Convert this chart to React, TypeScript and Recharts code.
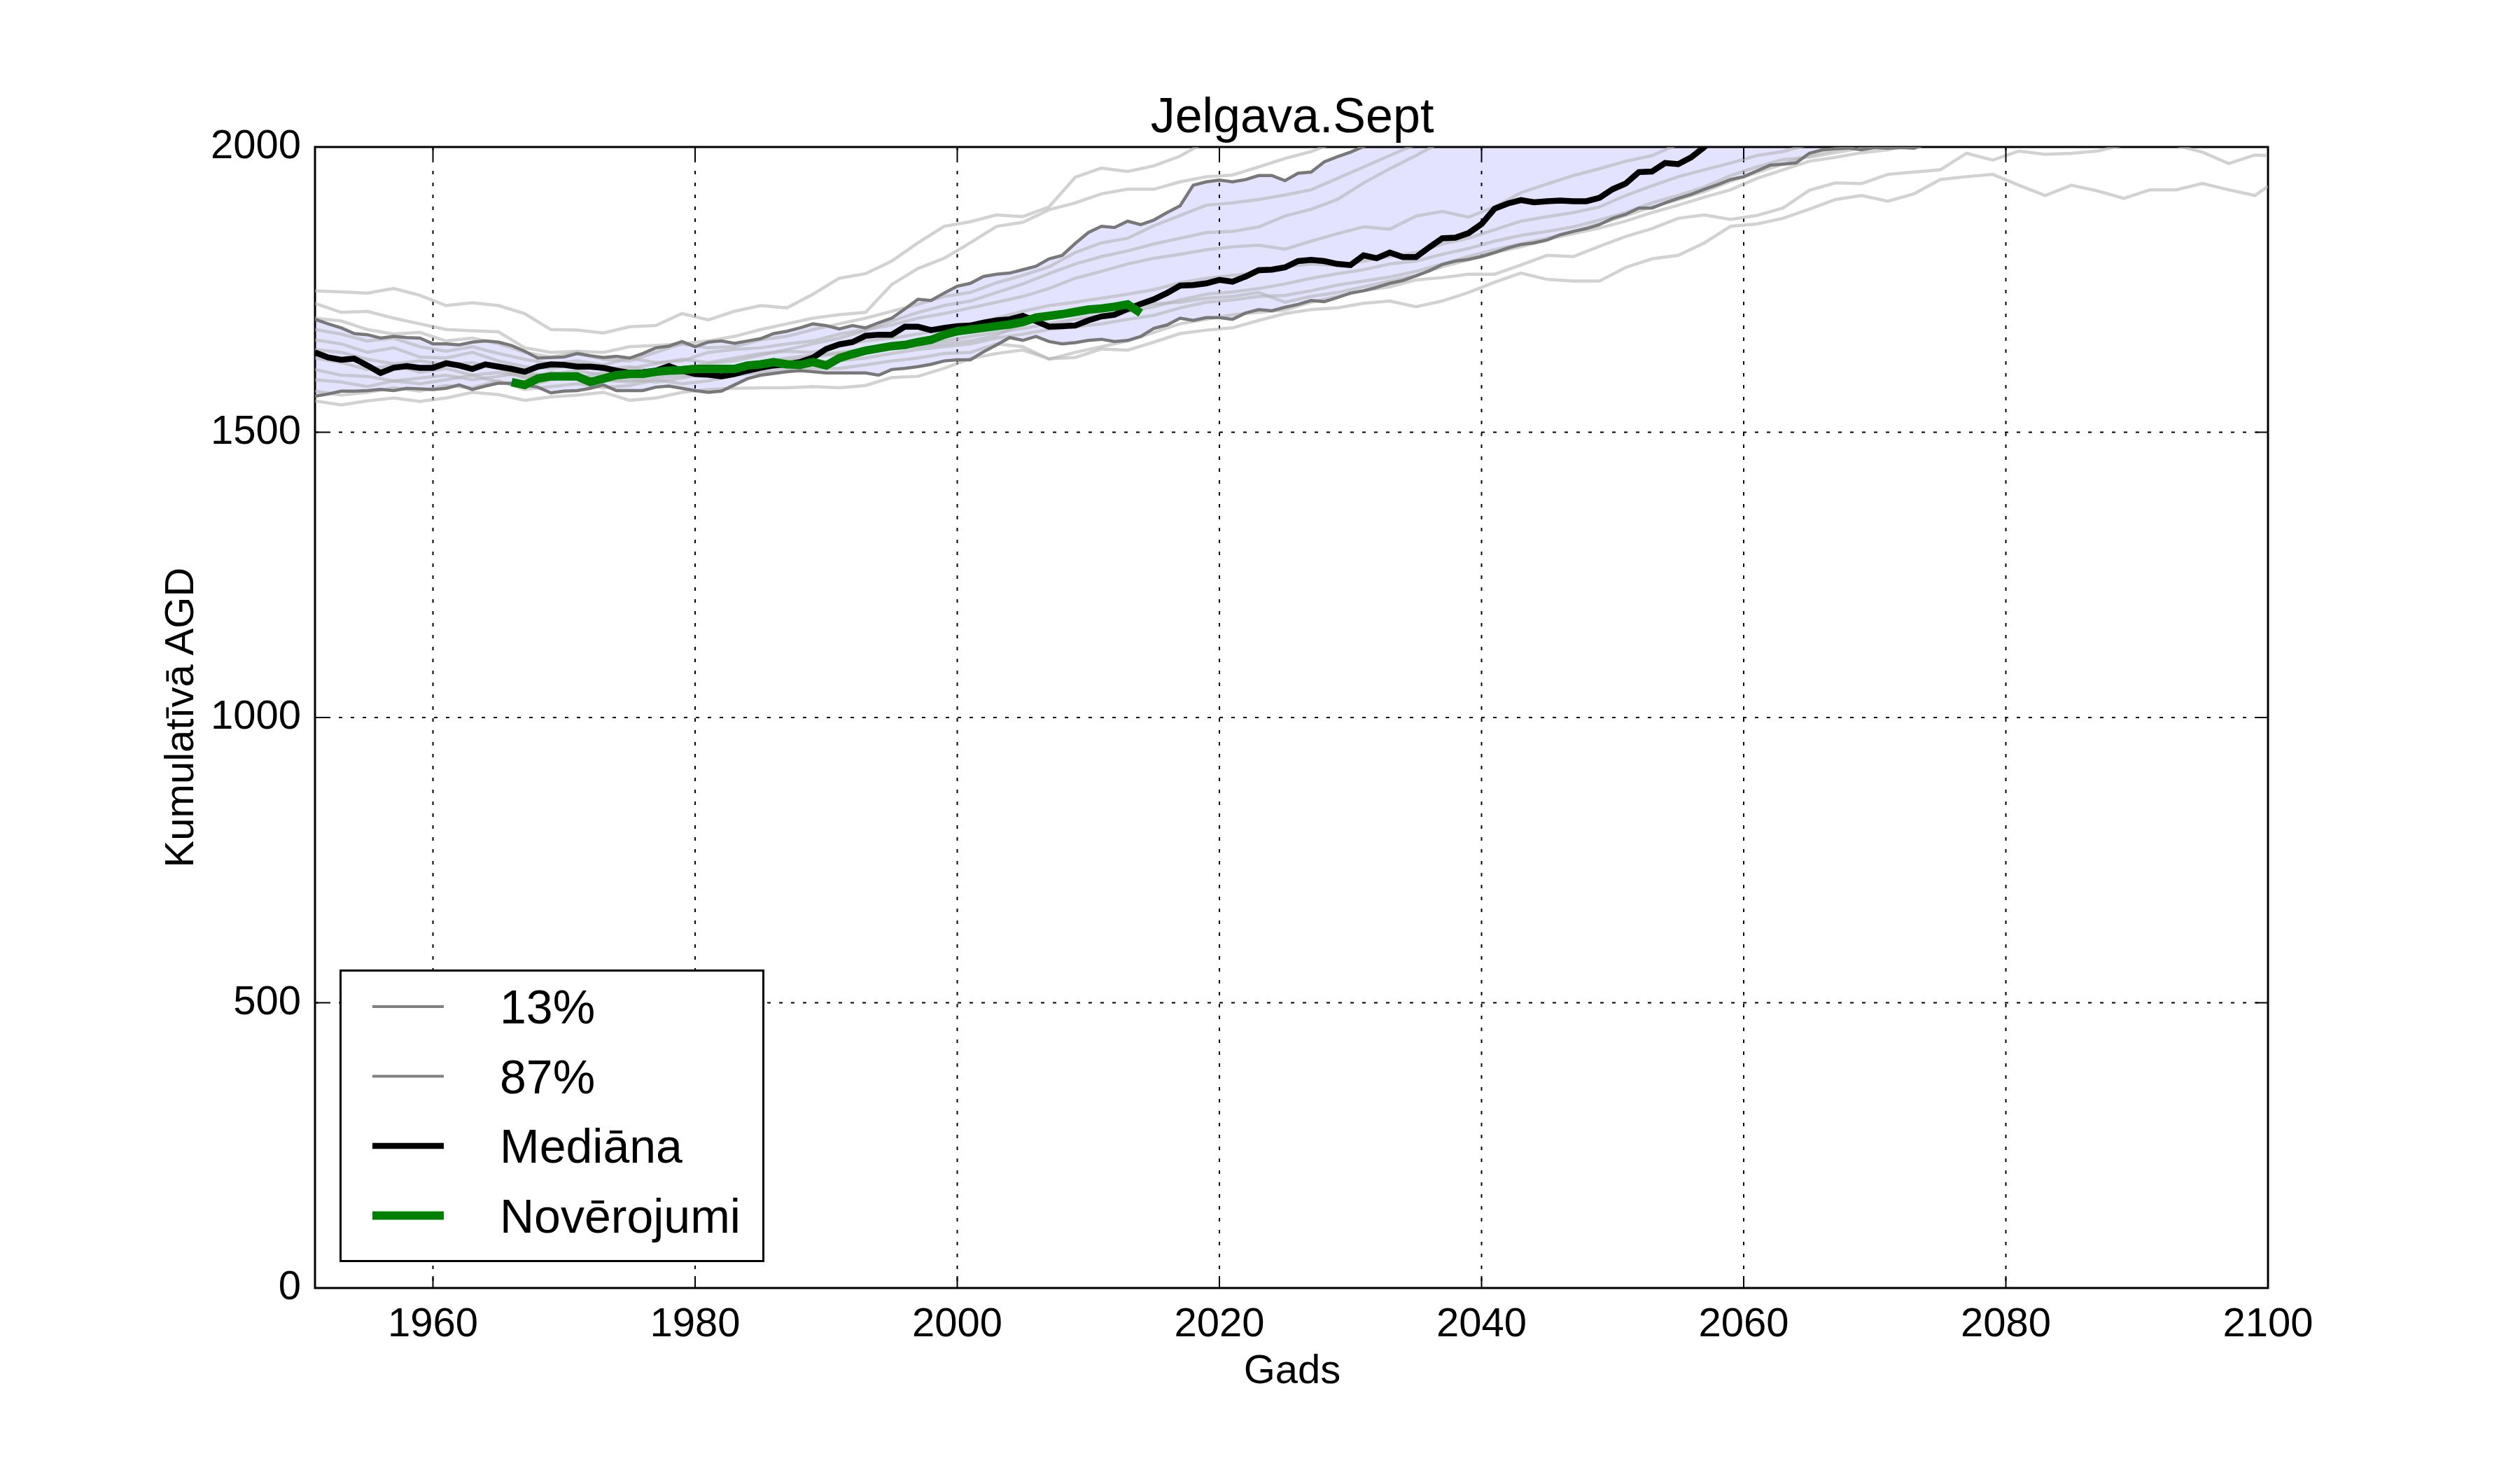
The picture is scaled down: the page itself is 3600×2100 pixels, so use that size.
import React from "react";
import {
  Area,
  CartesianGrid,
  ComposedChart,
  Line,
  ReferenceArea,
  XAxis,
  YAxis,
} from "recharts";

const FONT = "'Liberation Sans', Arial, sans-serif";

// yearly series start in 1951
const FIRST_YEAR = 1951;
const LAST_YEAR = 2100;

const X_TICKS = [1960, 1980, 2000, 2020, 2040, 2060, 2080, 2100];
const Y_TICKS = [0, 500, 1000, 1500, 2000];

// median of the ensemble, 1951..2058
const MEDIAN = [
  1640, 1631, 1627, 1629, 1617, 1604, 1613, 1616, 1613, 1613,
  1621, 1617, 1611, 1619, 1615, 1611, 1606, 1615, 1619, 1618,
  1615, 1615, 1613, 1608, 1604, 1605, 1608, 1616, 1608, 1602,
  1601, 1598, 1602, 1608, 1613, 1617, 1619, 1623, 1631, 1646,
  1654, 1658, 1669, 1671, 1671, 1685, 1685, 1679, 1683, 1686,
  1687, 1692, 1696, 1698, 1704, 1695, 1685, 1686, 1687, 1696,
  1703, 1706, 1716, 1725, 1733, 1744, 1757, 1758, 1761, 1767,
  1764, 1773, 1784, 1785, 1789, 1800, 1802, 1800, 1795, 1793,
  1810, 1805, 1815, 1807, 1807, 1824, 1840, 1841, 1849, 1865,
  1892, 1901, 1907, 1903, 1905, 1906, 1905, 1905, 1911, 1926,
  1936, 1956, 1957, 1972, 1970, 1982, 2000, 2022,
];

// 87% percentile, 1951..2032
const P87 = [
  1698, 1690, 1683, 1673, 1671, 1665, 1668, 1666, 1665, 1655,
  1655, 1653, 1658, 1660, 1658, 1652, 1642, 1630, 1631, 1632,
  1638, 1634, 1631, 1633, 1630, 1638, 1648, 1651, 1659, 1650,
  1658, 1660, 1656, 1660, 1664, 1673, 1677, 1683, 1690, 1687,
  1681, 1687, 1683, 1692, 1700, 1716, 1733, 1731, 1744, 1756,
  1761, 1773, 1777, 1779, 1785, 1791, 1804, 1810, 1831, 1850,
  1861, 1859, 1870, 1864, 1872, 1885, 1897, 1933, 1939, 1942,
  1939, 1943, 1950, 1950, 1941, 1954, 1956, 1974, 1983, 1991,
  2001, 2014,
];

// 13% percentile, 1951..2074
const P13 = [
  1563, 1567, 1572, 1572, 1573, 1575, 1573, 1577, 1576, 1575,
  1577, 1583, 1575, 1581, 1586, 1586, 1583, 1579, 1569, 1572,
  1573, 1577, 1583, 1573, 1573, 1573, 1579, 1581, 1577, 1573,
  1570, 1572, 1583, 1594, 1600, 1603, 1606, 1608, 1606, 1604,
  1604, 1604, 1604, 1600, 1610, 1612, 1615, 1619, 1625, 1627,
  1627, 1641, 1653, 1666, 1661, 1668, 1659, 1655, 1657, 1661,
  1663, 1659, 1661, 1668, 1682, 1688, 1700, 1696, 1701, 1701,
  1698, 1709, 1715, 1713, 1719, 1724, 1731, 1729, 1736, 1744,
  1748, 1754, 1761, 1766, 1774, 1783, 1794, 1800, 1803, 1808,
  1815, 1823, 1829, 1832, 1837, 1846, 1852, 1857, 1864, 1875,
  1882, 1893, 1893, 1902, 1910, 1917, 1926, 1934, 1943, 1948,
  1958, 1968, 1970, 1972, 1989, 1995, 1997, 1998, 1995, 1999,
  1998, 1999, 1998, 2006,
];

// observations, 1966..2014
const OBS_START = 1966;
const OBS = [
  1588, 1583, 1594, 1598, 1598, 1598, 1588, 1594, 1600, 1602,
  1602, 1606, 1608, 1609, 1611, 1611, 1611, 1611, 1617, 1619,
  1623, 1619, 1618, 1623, 1617, 1630, 1637, 1643, 1647, 1651,
  1653, 1658, 1662, 1671, 1677, 1680, 1683, 1686, 1689, 1693,
  1701, 1704, 1707, 1711, 1715, 1717, 1720, 1724, 1709,
];

// individual model runs, read every second year (1951, 1953, ... 2099) plus 2100
const RUN_YEARS = [...Array.from({ length: 75 }, (_, i) => 1951 + 2 * i), 2100];

const RUN_A = [
  1748, 1746, 1744, 1752, 1740, 1722, 1727, 1722, 1708, 1680,
  1679, 1674, 1685, 1687, 1708, 1697, 1712, 1722, 1718, 1742,
  1770, 1778, 1800, 1832, 1861, 1869, 1881, 1878, 1895, 1947,
  1963, 1957, 1967, 1984, 2010,
];
const RUN_B = [
  1726, 1710, 1712, 1700, 1690, 1680, 1678, 1676, 1648, 1640,
  1642, 1640, 1650, 1652, 1655, 1660, 1668, 1680, 1690, 1700,
  1706, 1710, 1759, 1787, 1805, 1832, 1861, 1868, 1890, 1902,
  1918, 1926, 1926, 1939, 1948, 1951, 1965, 1980, 1992, 2010,
];
const RUN_C = [
  1700, 1695, 1680, 1672, 1675, 1660, 1665, 1655, 1640, 1632,
  1640, 1628, 1625, 1640, 1655, 1648, 1650, 1662, 1668, 1680,
  1690, 1700, 1712, 1724, 1738, 1745, 1762, 1775, 1790, 1815,
  1832, 1840, 1862, 1880, 1898, 1902, 1908, 1916, 1925, 1945,
  1965, 1985, 2005,
];
const RUN_D = [
  1662, 1655, 1640, 1648, 1632, 1630, 1640, 1625, 1615, 1612,
  1620, 1610, 1615, 1605, 1612, 1620, 1625, 1635, 1645, 1655,
  1665, 1678, 1695, 1710, 1722, 1730, 1745, 1760, 1778, 1795,
  1808, 1818, 1830, 1840, 1850, 1852, 1860, 1879, 1891, 1908,
  1937, 1962, 1985, 2010,
];
const RUN_E = [
  1680, 1672, 1660, 1665, 1650, 1642, 1650, 1638, 1628, 1620,
  1625, 1618, 1630, 1622, 1625, 1640, 1645, 1648, 1655, 1660,
  1672, 1680, 1688, 1700, 1708, 1718, 1728, 1738, 1752, 1770,
  1782, 1795, 1805, 1812, 1820, 1825, 1828, 1821, 1835, 1848,
  1860, 1856, 1879, 1887, 1877, 1895, 1920, 1935, 1950, 1962,
  1975, 1985, 2005,
];
const RUN_F = [
  1630, 1622, 1610, 1618, 1605, 1612, 1600, 1605, 1598, 1602,
  1608, 1600, 1612, 1620, 1628, 1622, 1630, 1638, 1642, 1640,
  1652, 1660, 1665, 1672, 1680, 1688, 1700, 1712, 1722, 1728,
  1735, 1742, 1750, 1762, 1770, 1775, 1780, 1790, 1795, 1792,
  1800, 1808, 1815, 1830, 1840, 1855, 1870, 1878, 1885, 1895,
  1915, 1932, 1948, 1960, 1972, 1985, 1992, 2005,
];
const RUN_G = [
  1610, 1600, 1598, 1590, 1595, 1600, 1592, 1598, 1605, 1598,
  1595, 1605, 1598, 1600, 1610, 1615, 1612, 1620, 1625, 1632,
  1638, 1642, 1650, 1656, 1660, 1668, 1675, 1682, 1690, 1698,
  1705, 1712, 1720, 1732, 1742, 1746, 1752, 1760, 1770, 1778,
  1785, 1795, 1800, 1812, 1822, 1835, 1845, 1852, 1860, 1872,
  1885, 1902, 1915, 1930, 1950, 1965, 1978, 1982, 1990, 1998,
  2008,
];
const RUN_H = [
  1592, 1588, 1580, 1590, 1585, 1592, 1600, 1588, 1580, 1592,
  1600, 1592, 1588, 1595, 1600, 1598, 1605, 1612, 1618, 1622,
  1625, 1630, 1638, 1645, 1650, 1655, 1665, 1672, 1680, 1685,
  1690, 1698, 1705, 1718, 1728, 1732, 1738, 1740, 1748, 1758,
  1765, 1772, 1782, 1795, 1808, 1820, 1830, 1840, 1852, 1865,
  1880, 1895, 1908, 1922, 1940, 1955, 1970, 1985, 1995, 2005,
];
const RUN_I = [
  1645, 1640, 1628, 1620, 1625, 1618, 1622, 1612, 1595, 1605,
  1598, 1590, 1592, 1588, 1595, 1605, 1615, 1622, 1630, 1635,
  1640, 1645, 1648, 1650, 1655, 1660, 1670, 1690, 1700, 1705,
  1712, 1720, 1725, 1728, 1735, 1738, 1745, 1728, 1738, 1745,
  1755, 1765, 1775, 1790, 1802, 1815, 1825, 1838, 1848, 1858,
  1870, 1885, 1898, 1912, 1925, 1945, 1960, 1975, 1982, 1990,
  1995, 2005,
];
const RUN_J = [
  1572, 1565, 1570, 1578, 1572, 1582, 1578, 1590, 1575, 1580,
  1585, 1578, 1582, 1592, 1585, 1590, 1600, 1605, 1610, 1612,
  1612, 1618, 1625, 1630, 1638, 1640, 1655, 1650, 1628, 1640,
  1650, 1660, 1675, 1690, 1698, 1706, 1710, 1714, 1728, 1738,
  1748, 1755, 1767, 1771, 1777, 1777, 1793, 1810, 1808, 1826,
  1843, 1857, 1875, 1881, 1873, 1880, 1893, 1924, 1937, 1936,
  1952, 1956, 1960, 1989, 1977, 1993, 1987, 1989, 1993, 2004,
  2008, 2003, 1991, 1971, 1986, 1985,
];
const RUN_K = [
  1555, 1548, 1555, 1560, 1554, 1560, 1570, 1566, 1556, 1562,
  1565, 1570, 1556, 1560, 1570, 1575, 1577, 1578, 1578, 1580,
  1578, 1582, 1596, 1598, 1612, 1629, 1638, 1644, 1629, 1631,
  1646, 1644, 1658, 1673, 1679, 1683, 1696, 1708, 1715, 1718,
  1726, 1730, 1720, 1730, 1745, 1763, 1779, 1768, 1765, 1765,
  1789, 1804, 1810, 1832, 1861, 1865, 1875, 1891, 1908, 1915,
  1905, 1918, 1943, 1948, 1952, 1933, 1915, 1933, 1923, 1910,
  1925, 1925, 1936, 1925, 1915, 1931,
];

const RUNS = [RUN_A, RUN_B, RUN_C, RUN_D, RUN_E, RUN_F, RUN_G, RUN_H, RUN_I, RUN_J, RUN_K];

// plot area size in px (used to mirror ticks on the top / right sides)
const PLOT_W = 2790;
const PLOT_H = 1630;

const buildRows = () => {
  const rows: any[] = [];
  for (let year = FIRST_YEAR; year <= LAST_YEAR; year++) {
    const i = year - FIRST_YEAR;
    const row: any = { year };
    if (i < MEDIAN.length) row.median = MEDIAN[i];
    if (i < P13.length) row.p13 = P13[i];
    if (i < P87.length) row.p87 = P87[i];
    if (i < P13.length) {
      // above the axes the upper edge of the band is cut at the top of the plot
      const hi = i < P87.length ? P87[i] : 2000;
      row.band = [P13[i], Math.max(hi, P13[i])];
    }
    const j = year - OBS_START;
    if (j >= 0 && j < OBS.length) row.obs = OBS[j];
    const k = RUN_YEARS.indexOf(year);
    if (k >= 0) {
      RUNS.forEach((run, r) => {
        if (k < run.length) row["run" + r] = run[k];
      });
    }
    rows.push(row);
  }
  return rows;
};

const data = buildRows();

const XTick = (props: any) => {
  const { x, y, payload } = props;
  return (
    <g>
      <line x1={x} y1={y} x2={x} y2={y - 17} stroke="#000" strokeWidth={2} />
      <line x1={x} y1={y - PLOT_H} x2={x} y2={y - PLOT_H + 17} stroke="#000" strokeWidth={2} />
      <text x={x} y={y + 69} textAnchor="middle" fontSize={58} fontFamily={FONT} fill="#000">
        {payload.value}
      </text>
    </g>
  );
};

const YTick = (props: any) => {
  const { x, y, payload } = props;
  return (
    <g>
      <line x1={x} y1={y} x2={x + 17} y2={y} stroke="#000" strokeWidth={2} />
      <line x1={x + PLOT_W} y1={y} x2={x + PLOT_W - 17} y2={y} stroke="#000" strokeWidth={2} />
      <text x={x - 20} y={y + 16} textAnchor="end" fontSize={58} fontFamily={FONT} fill="#000">
        {payload.value}
      </text>
    </g>
  );
};

const legendItems = [
  { label: "13%", color: "#808080", width: 4 },
  { label: "87%", color: "#808080", width: 4 },
  { label: "Mediāna", color: "#000000", width: 8.5 },
  { label: "Novērojumi", color: "#008000", width: 12 },
];

function ChartLegend() {
  return (
    <div
      style={{
        position: "absolute",
        left: 477,
        top: 1377,
        width: 607,
        height: 418,
        boxSizing: "border-box",
        border: "3px solid #000",
        background: "#fff",
      }}
    >
      <svg width={601} height={412} style={{ position: "absolute", left: 0, top: 0 }}>
        {legendItems.map((item, i) => {
          const cy = 50 + i * 99.5;
          return (
            <g key={item.label}>
              <line x1={44} x2={146} y1={cy} y2={cy} stroke={item.color} strokeWidth={item.width} />
              <text x={226} y={cy + 24} fontSize={68} fontFamily={FONT} fill="#000">
                {item.label}
              </text>
            </g>
          );
        })}
      </svg>
    </div>
  );
}

export default function App() {
  return (
    <div style={{ position: "relative", width: 3584, height: 2084, background: "#fff" }}>
      <ComposedChart
        width={3584}
        height={2084}
        data={data}
        margin={{ top: 202, right: 352, bottom: 152, left: 342 }}
      >
        <CartesianGrid stroke="#000" strokeWidth={2} strokeDasharray="5 12" />
        <XAxis
          dataKey="year"
          type="number"
          domain={[1951, 2100]}
          ticks={X_TICKS}
          interval={0}
          allowDataOverflow
          axisLine={false}
          tickLine={false}
          tickSize={0}
          tickMargin={0}
          height={100}
          tick={<XTick />}
        />
        <YAxis
          type="number"
          domain={[0, 2000]}
          ticks={Y_TICKS}
          interval={0}
          allowDataOverflow
          axisLine={false}
          tickLine={false}
          tickSize={0}
          tickMargin={0}
          width={100}
          tick={<YTick />}
        />
        <Area
          dataKey="band"
          type="linear"
          stroke="none"
          fill="#0000ff"
          fillOpacity={0.11}
          isAnimationActive={false}
          dot={false}
          activeDot={false}
        />
        {RUNS.map((_, r) => (
          <Line
            key={r}
            dataKey={"run" + r}
            type="linear"
            stroke="#b4b4b4"
            strokeOpacity={0.6}
            strokeWidth={4.5}
            connectNulls
            dot={false}
            activeDot={false}
            isAnimationActive={false}
          />
        ))}
        <Line
          dataKey="p13"
          type="linear"
          stroke="#787878"
          strokeWidth={4.5}
          dot={false}
          activeDot={false}
          isAnimationActive={false}
        />
        <Line
          dataKey="p87"
          type="linear"
          stroke="#787878"
          strokeWidth={4.5}
          dot={false}
          activeDot={false}
          isAnimationActive={false}
        />
        <Line
          dataKey="median"
          type="linear"
          stroke="#000"
          strokeWidth={8.5}
          dot={false}
          activeDot={false}
          isAnimationActive={false}
        />
        <Line
          dataKey="obs"
          type="linear"
          stroke="#008000"
          strokeWidth={12}
          dot={false}
          activeDot={false}
          isAnimationActive={false}
        />
        <ReferenceArea
          x1={1951}
          x2={2100}
          y1={0}
          y2={2000}
          fill="none"
          stroke="#000"
          strokeWidth={3}
          fillOpacity={0}
        />
      </ComposedChart>
      <svg
        width={3584}
        height={2084}
        style={{ position: "absolute", left: 0, top: 0, pointerEvents: "none" }}
      >
        <text x={1838} y={181} textAnchor="middle" fontSize={70} fontFamily={FONT} fill="#000">
          Jelgava.Sept
        </text>
        <text x={1838} y={1968} textAnchor="middle" fontSize={58} fontFamily={FONT} fill="#000">
          Gads
        </text>
        <text
          x={268}
          y={1017}
          textAnchor="middle"
          fontSize={58}
          fontFamily={FONT}
          fill="#000"
          transform="rotate(-90 268 1017)"
        >
          Kumulatīvā AGD
        </text>
      </svg>
      <ChartLegend />
    </div>
  );
}
